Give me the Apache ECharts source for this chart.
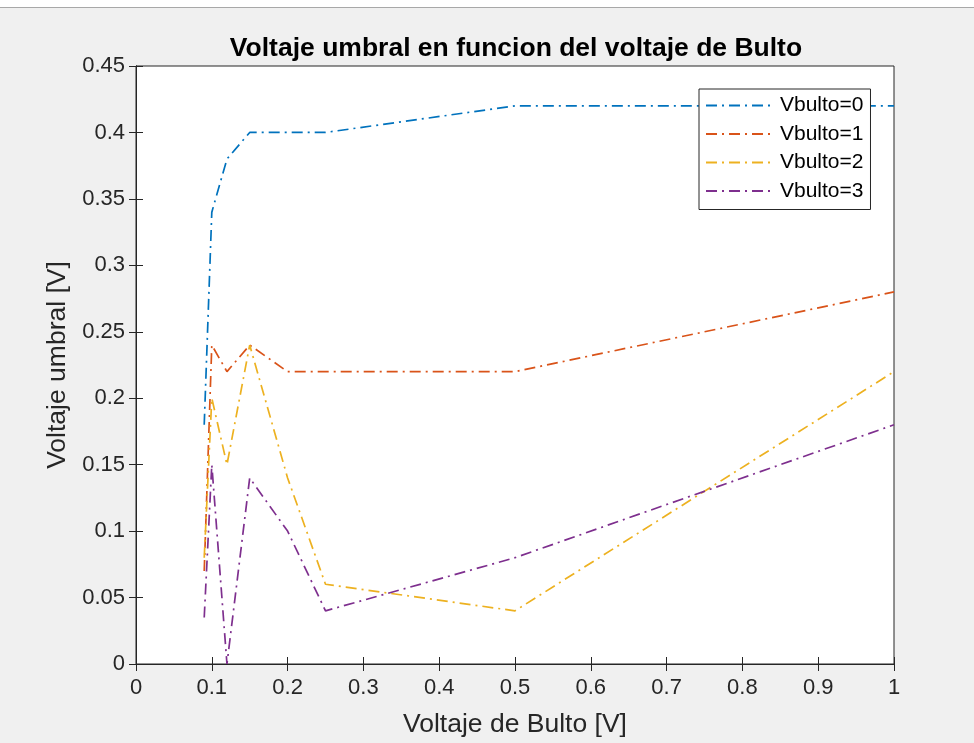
<!DOCTYPE html>
<html>
<head>
<meta charset="utf-8">
<script src="https://cdn.jsdelivr.net/npm/echarts@6/dist/echarts.min.js"></script>
<style>
  * { margin: 0; padding: 0; box-sizing: border-box; }
  body { width: 974px; height: 743px; background: #fff; overflow: hidden; }
  #topbar { position: absolute; left: 0; top: 0; width: 974px; height: 8px; background: #fff; border-bottom: 1px solid #a8a8a8; z-index: 2; }
  #main { position: absolute; left: 0; top: 0; width: 974px; height: 743px; }
</style>
</head>
<body>
<div id="main"></div>
<div id="topbar"></div>
<script>
// voltaje de bulto (eje x)
var xVals = [0.09, 0.1, 0.12, 0.15, 0.2, 0.25, 0.5, 1];
// voltaje umbral por serie
var vb0 = [0.18, 0.34, 0.38, 0.40, 0.40, 0.40, 0.42, 0.42];
var vb1 = [0.07, 0.24, 0.22, 0.24, 0.22, 0.22, 0.22, 0.28];
var vb2 = [0.08, 0.20, 0.15, 0.24, 0.14, 0.06, 0.04, 0.22];
var vb3 = [0.035, 0.15, 0.0, 0.14, 0.10, 0.04, 0.08, 0.18];
var names = ['Vbulto=0', 'Vbulto=1', 'Vbulto=2', 'Vbulto=3'];
var colors = ['#0072BD', '#D95319', '#EDB120', '#7E2F8E'];

var font = 'Liberation Sans, Arial, Helvetica, sans-serif';

function pairs(ys) {
  return xVals.map(function (x, i) { return [x, ys[i]]; });
}

var series = [vb0, vb1, vb2, vb3].map(function (ys, i) {
  return {
    name: names[i],
    type: 'line',
    data: pairs(ys),
    symbol: 'none',
    showSymbol: false,
    color: colors[i],
    lineStyle: { width: 1.7, type: [11, 5, 2, 5], color: colors[i] }
  };
});

var option = {
  backgroundColor: '#f0f0f0',
  animation: false,
  title: {
    text: 'Voltaje umbral en funcion del voltaje de Bulto',
    left: 511,
    top: 30,
    textAlign: 'center',
    textStyle: { fontFamily: font, fontSize: 26.5, fontWeight: 'bold', color: '#000' }
  },
  legend: {
    orient: 'vertical',
    left: 699,
    top: 89,
    padding: [6, 7, 8, 6],
    itemWidth: 69,
    itemHeight: 14,
    itemGap: 7.5,
    backgroundColor: '#fff',
    borderColor: '#262626',
    borderWidth: 1,
    borderRadius: 0,
    itemStyle: { opacity: 0 },
    textStyle: { fontFamily: font, fontSize: 21, color: '#000' },
    data: names
  },
  grid: {
    left: 136, right: 80, top: 66, bottom: 79,
    show: true, backgroundColor: '#fff', borderColor: '#262626', borderWidth: 1
  },
  xAxis: [{
    type: 'value', min: 0, max: 1, interval: 0.1,
    name: 'Voltaje de Bulto [V]', nameLocation: 'middle', nameGap: 47,
    nameTextStyle: { fontFamily: font, fontSize: 26.5, color: '#262626' },
    axisLine: { show: true, lineStyle: { color: '#262626' } },
    axisTick: { show: true, inside: true, length: 7, lineStyle: { color: '#262626' } },
    axisLabel: { fontFamily: font, fontSize: 22, color: '#262626', margin: 13 },
    splitLine: { show: false }
  }, {
    type: 'value', min: 0, max: 1, interval: 0.1, position: 'top',
    axisLine: { show: true, lineStyle: { color: '#262626' } },
    axisTick: { show: true, inside: true, length: 7, lineStyle: { color: '#262626' } },
    axisLabel: { show: false },
    splitLine: { show: false }
  }],
  yAxis: [{
    type: 'value', min: 0, max: 0.45, interval: 0.05,
    name: 'Voltaje umbral [V]', nameLocation: 'middle', nameGap: 63,
    nameTextStyle: { fontFamily: font, fontSize: 26.5, color: '#262626' },
    axisLine: { show: true, lineStyle: { color: '#262626' } },
    axisTick: { show: true, inside: true, length: 7, lineStyle: { color: '#262626' } },
    axisLabel: { fontFamily: font, fontSize: 22, color: '#262626', margin: 11 },
    splitLine: { show: false }
  }, {
    type: 'value', min: 0, max: 0.45, interval: 0.05, position: 'right',
    axisLine: { show: true, lineStyle: { color: '#262626' } },
    axisTick: { show: true, inside: true, length: 7, lineStyle: { color: '#262626' } },
    axisLabel: { show: false },
    splitLine: { show: false }
  }],
  series: series
};

var chart = echarts.init(document.getElementById('main'), null, { renderer: 'canvas' });
chart.setOption(option);
</script>
</body>
</html>
